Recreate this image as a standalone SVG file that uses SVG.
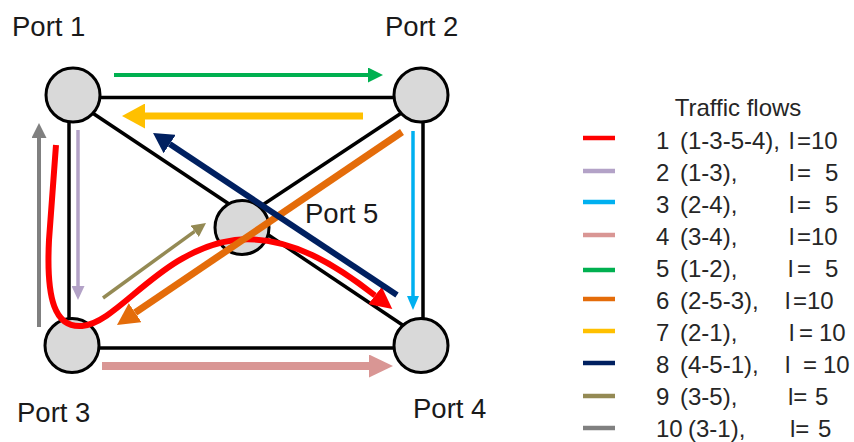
<svg xmlns="http://www.w3.org/2000/svg" width="854" height="442" viewBox="0 0 854 442">
<style>
.edge{stroke:#000;stroke-width:3.5;fill:none}
.port{fill:#d9d9d9;stroke:#000;stroke-width:3}
.lbl{font-family:"Liberation Sans",Arial,sans-serif;font-size:27.5px;fill:#1a1a1a}
.lg{font-family:"Liberation Sans",Arial,sans-serif;font-size:24px;fill:#262626}
.flow{fill:none}
.key{stroke-width:4.5}
</style>
<defs>
<marker id="mGreen" markerUnits="userSpaceOnUse" viewBox="0 0 15 15" markerWidth="15" markerHeight="15" refX="0" refY="7.5" orient="auto"><path d="M0,0L15,7.5L0,15z" fill="#00b050"/></marker>
<marker id="mYellow" markerUnits="userSpaceOnUse" viewBox="0 0 23 25" markerWidth="23" markerHeight="25" refX="0" refY="12.5" orient="auto"><path d="M0,0L23,12.5L0,25z" fill="#ffc000"/></marker>
<marker id="mNavy" markerUnits="userSpaceOnUse" viewBox="0 0 20 22" markerWidth="20" markerHeight="22" refX="0" refY="11" orient="auto"><path d="M0,0L20,11L0,22z" fill="#002060"/></marker>
<marker id="mOrange" markerUnits="userSpaceOnUse" viewBox="0 0 22 23" markerWidth="22" markerHeight="23" refX="0" refY="11.5" orient="auto"><path d="M0,0L22,11.5L0,23z" fill="#e46c0a"/></marker>
<marker id="mBlue" markerUnits="userSpaceOnUse" viewBox="0 0 14 12" markerWidth="14" markerHeight="12" refX="0" refY="6" orient="auto"><path d="M0,0L14,6L0,12z" fill="#00b0f0"/></marker>
<marker id="mPurple" markerUnits="userSpaceOnUse" viewBox="0 0 14 13" markerWidth="14" markerHeight="13" refX="0" refY="6.5" orient="auto"><path d="M0,0L14,6.5L0,13z" fill="#b3a2c7"/></marker>
<marker id="mGray" markerUnits="userSpaceOnUse" viewBox="0 0 15 15" markerWidth="15" markerHeight="15" refX="0" refY="7.5" orient="auto"><path d="M0,0L15,7.5L0,15z" fill="#808080"/></marker>
<marker id="mOlive" markerUnits="userSpaceOnUse" viewBox="0 0 14 14" markerWidth="14" markerHeight="14" refX="0" refY="7" orient="auto"><path d="M0,0L14,7L0,14z" fill="#948a54"/></marker>
<marker id="mPink" markerUnits="userSpaceOnUse" viewBox="0 0 24 23" markerWidth="24" markerHeight="23" refX="0" refY="11.5" orient="auto"><path d="M0,0L24,11.5L0,23z" fill="#d99694"/></marker>
<marker id="mRed" markerUnits="userSpaceOnUse" viewBox="0 0 22 22" markerWidth="22" markerHeight="22" refX="0" refY="11" orient="auto"><path d="M0,0L22,11L0,22z" fill="#ff0000"/></marker>
</defs>

<g id="edges">
<line class="edge" x1="73" y1="97.5" x2="421" y2="97.5"/>
<line class="edge" x1="73" y1="348" x2="421" y2="348"/>
<line class="edge" x1="69" y1="96" x2="69" y2="345"/>
<line class="edge" x1="423" y1="96" x2="423" y2="345"/>
<line class="edge" x1="85" y1="108" x2="235" y2="208"/>
<line class="edge" x1="412" y1="106" x2="252" y2="212"/>
<line class="edge" x1="255" y1="226" x2="410" y2="330"/>
</g>

<g id="port1"><circle class="port" cx="73" cy="95" r="27"/><text class="lbl" x="12" y="36">Port 1</text></g>
<g id="port2"><circle class="port" cx="421" cy="95" r="27"/><text class="lbl" x="385" y="36">Port 2</text></g>
<g id="port3"><circle class="port" cx="72" cy="345.5" r="27"/><text class="lbl" x="17" y="422">Port 3</text></g>
<g id="port4"><circle class="port" cx="421" cy="345.5" r="27"/><text class="lbl" x="413" y="418">Port 4</text></g>
<g id="port5"><circle class="port" cx="242" cy="227.5" r="27"/><text class="lbl" x="305" y="223">Port 5</text></g>

<g id="flows">
<path class="flow" d="M114,75H368" stroke="#00b050" stroke-width="4" marker-end="url(#mGreen)"/>
<path class="flow" d="M363,116H145" stroke="#ffc000" stroke-width="7" marker-end="url(#mYellow)"/>
<path class="flow" d="M78,130V286" stroke="#b3a2c7" stroke-width="3.5" marker-end="url(#mPurple)"/>
<path class="flow" d="M39,327V138" stroke="#808080" stroke-width="4" marker-end="url(#mGray)"/>
<path class="flow" d="M413,131V296" stroke="#00b0f0" stroke-width="3.5" marker-end="url(#mBlue)"/>
<path class="flow" d="M102,366H369" stroke="#d99694" stroke-width="8" marker-end="url(#mPink)"/>
<path class="flow" d="M103,298L194.7,231.3" stroke="#948a54" stroke-width="3.5" marker-end="url(#mOlive)"/>
<path class="flow" d="M56,145L49,240C46,300 55,328 82,326C120,322 160,250 235,240C290,234 340,268 375,295.5" stroke="#ff0000" stroke-width="6" marker-end="url(#mRed)"/>
<path class="flow" d="M402,132L135.2,312.7" stroke="#e46c0a" stroke-width="7" marker-end="url(#mOrange)"/>
<path class="flow" d="M397,295L169.7,144.1" stroke="#002060" stroke-width="6" marker-end="url(#mNavy)"/>
</g>

<g id="legend">
<text class="lg" x="738" y="116" text-anchor="middle">Traffic flows</text>
<line class="key" x1="583" y1="138" x2="615" y2="138" stroke="#ff0000"/>
<line class="key" x1="583" y1="171" x2="615" y2="171" stroke="#b3a2c7"/>
<line class="key" x1="583" y1="202" x2="615" y2="202" stroke="#00b0f0"/>
<line class="key" x1="583" y1="235" x2="615" y2="235" stroke="#d99694"/>
<line class="key" x1="583" y1="270" x2="615" y2="270" stroke="#00b050"/>
<line class="key" x1="583" y1="299" x2="615" y2="299" stroke="#e46c0a"/>
<line class="key" x1="583" y1="331" x2="615" y2="331" stroke="#ffc000"/>
<line class="key" x1="583" y1="363" x2="615" y2="363" stroke="#002060"/>
<line class="key" x1="583" y1="396" x2="615" y2="396" stroke="#948a54"/>
<line class="key" x1="583" y1="428" x2="615" y2="428" stroke="#808080"/>

<text class="lg" y="149"><tspan x="656">1</tspan><tspan x="680">(1-3-5-4),</tspan><tspan x="789">l</tspan><tspan x="797">=10</tspan></text>
<text class="lg" y="181"><tspan x="656">2</tspan><tspan x="680">(1-3),</tspan><tspan x="789">l</tspan><tspan x="797">=</tspan><tspan x="825">5</tspan></text>
<text class="lg" y="213"><tspan x="656">3</tspan><tspan x="680">(2-4),</tspan><tspan x="789">l</tspan><tspan x="797">=</tspan><tspan x="825">5</tspan></text>
<text class="lg" y="245"><tspan x="656">4</tspan><tspan x="680">(3-4),</tspan><tspan x="789">l</tspan><tspan x="797">=10</tspan></text>
<text class="lg" y="277"><tspan x="656">5</tspan><tspan x="680">(1-2),</tspan><tspan x="788">l</tspan><tspan x="797">=</tspan><tspan x="825">5</tspan></text>
<text class="lg" y="309"><tspan x="656">6</tspan><tspan x="680">(2-5-3),</tspan><tspan x="785">l</tspan><tspan x="793">=10</tspan></text>
<text class="lg" y="341"><tspan x="656">7</tspan><tspan x="680">(2-1),</tspan><tspan x="789">l</tspan><tspan x="799">=</tspan><tspan x="819">10</tspan></text>
<text class="lg" y="373"><tspan x="656">8</tspan><tspan x="680">(4-5-1),</tspan><tspan x="785">l</tspan><tspan x="803">=</tspan><tspan x="823">10</tspan></text>
<text class="lg" y="405"><tspan x="656">9</tspan><tspan x="680">(3-5),</tspan><tspan x="788">l=</tspan><tspan x="815">5</tspan></text>
<text class="lg" y="437"><tspan x="656">10</tspan><tspan x="688">(3-1),</tspan><tspan x="790">l=</tspan><tspan x="818">5</tspan></text>
</g>
</svg>
